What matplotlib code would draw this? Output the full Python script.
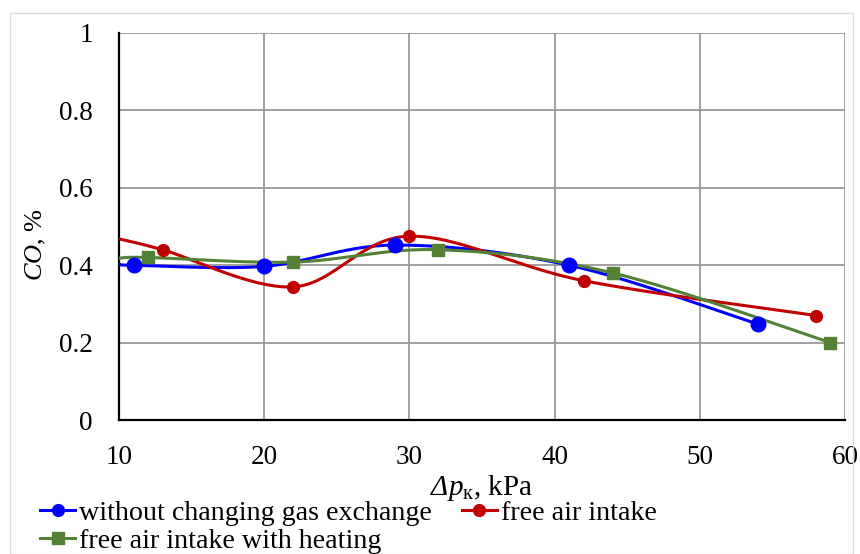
import numpy as np
import matplotlib
matplotlib.use("Agg")
import matplotlib.pyplot as plt

# series data (first point of each sits on the left edge, no marker)
x_blue = [10, 11, 20, 29, 41, 54]
y_blue = [0.402, 0.40, 0.397, 0.452, 0.40, 0.248]
x_red = [10, 13, 22, 30, 42, 58]
y_red = [0.468, 0.44, 0.344, 0.475, 0.36, 0.27]
x_green = [10, 12, 22, 32, 44, 59]
y_green = [0.418, 0.42, 0.408, 0.44, 0.38, 0.20]

labels = ["without changing gas exchange", "free air intake",
          "free air intake with heating"]
x_ticks = [10, 20, 30, 40, 50, 60]
y_ticks = [0, 0.2, 0.4, 0.6, 0.8, 1.0]
y_tick_labels = ["0", "0.2", "0.4", "0.6", "0.8", "1"]

plt.rcParams["font.family"] = ["Liberation Serif", "DejaVu Serif"]
plt.rcParams["mathtext.fontset"] = "custom"
plt.rcParams["mathtext.rm"] = "Liberation Serif"
plt.rcParams["mathtext.it"] = "Liberation Serif:italic"
# sf slot used for an italic capital delta (mathtext keeps Greek capitals upright in \mathit)
plt.rcParams["mathtext.sf"] = "Liberation Serif:italic"


def smooth(xs, ys, n=30):
    # Catmull-Rom style bezier, like spreadsheet "smoothed line"
    x = np.asarray(xs, float)
    y = np.asarray(ys, float)
    px = np.concatenate([[x[0]], x, [x[-1]]])
    py = np.concatenate([[y[0]], y, [y[-1]]])
    out_x, out_y = [], []
    t = np.linspace(0, 1, n)
    for i in range(1, len(px) - 2):
        p0 = np.array([px[i], py[i]])
        p3 = np.array([px[i + 1], py[i + 1]])
        c1 = p0 + (np.array([px[i + 1], py[i + 1]]) - np.array([px[i - 1], py[i - 1]])) / 6
        c2 = p3 - (np.array([px[i + 2], py[i + 2]]) - np.array([px[i], py[i]])) / 6
        b = ((1 - t) ** 3)[:, None] * p0 + (3 * (1 - t) ** 2 * t)[:, None] * c1 \
            + (3 * (1 - t) * t ** 2)[:, None] * c2 + (t ** 3)[:, None] * p3
        out_x.extend(b[:, 0])
        out_y.extend(b[:, 1])
    return out_x, out_y


fig = plt.figure(figsize=(8.6, 5.54), dpi=100)
ax = fig.add_axes([119 / 860, 1 - 420 / 554, (845 - 119) / 860, (420 - 33) / 554])

series = [
    (x_blue, y_blue, "#0000FF", "o", 10.5),
    (x_red, y_red, "#C00000", "o", 8.5),
    (x_green, y_green, "#538135", "s", 8.5),
]
handles = []
for (xs, ys, col, mk, ms), lab in zip(series, labels):
    sx, sy = smooth(xs, ys)
    ax.plot(sx, sy, color=col, lw=2.2, zorder=3)
    ax.plot(xs[1:], ys[1:], ls="none", marker=mk, ms=ms, color=col, zorder=4)
    h, = ax.plot([], [], color=col, lw=2.2, marker=mk, ms=8.5, label=lab)
    handles.append(h)

ax.set_xlim(10, 60)
ax.set_ylim(0, 1)
ax.set_xticks(x_ticks)
ax.set_yticks(y_ticks)
ax.set_yticklabels(y_tick_labels)
ax.grid(True, color="#999999", lw=1.3)
ax.tick_params(length=0, labelsize=19.5)
ax.tick_params(axis="y", pad=19)
ax.tick_params(axis="x", pad=18)
for s in ["top", "right"]:
    ax.spines[s].set_visible(False)
for s in ["left", "bottom"]:
    ax.spines[s].set_color("black")
    ax.spines[s].set_linewidth(1.6)
    ax.spines[s].set_zorder(2.5)

ax.set_xlabel("$\\mathsf{Δ}\\mathit{p}_{\\mathrm{к}}$, kPa", fontsize=21, labelpad=2)
ax.set_ylabel("$\\mathit{CO}$, %", fontsize=19)
ax.yaxis.set_label_coords(-0.098, 0.452)

order = [handles[0], handles[2], handles[1]]
fig.legend(order, [h.get_label() for h in order], ncol=2,
           loc="upper left", bbox_to_anchor=(40 / 860, 1 - 500 / 554),
           frameon=False, fontsize=20.2, handlelength=1.25, handletextpad=0.15,
           columnspacing=1.05, labelspacing=0.08, borderpad=0, borderaxespad=0)

fig.patches.append(plt.Rectangle((10 / 860, 0.0), 843 / 860, 1 - 13 / 554,
                                 transform=fig.transFigure,
                                 fill=False, edgecolor="#d9d9d9", lw=1))
fig.savefig("out.png", dpi=100)
